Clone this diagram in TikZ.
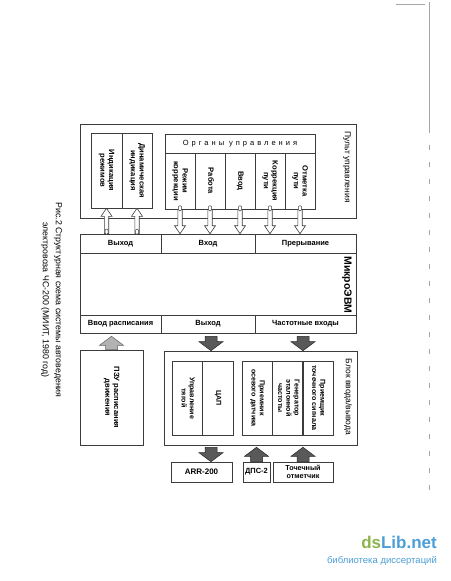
\documentclass[tikz,border=0pt]{standalone}
\usepackage{fontspec}
\usepackage{graphicx}
\setmainfont{Liberation Sans}
\usetikzlibrary{calc}
\definecolor{scanline}{HTML}{3C3C3C}
\definecolor{dsgreen}{HTML}{8DB34C}
\definecolor{dsblue}{HTML}{4C9ED6}

% vertical (top to bottom) text inside a box
\newcommand\vtext[1]{\rotatebox{-90}{\begin{tabular}{@{}c@{}}#1\end{tabular}}}
% block arrow: [style]{shaft half}{head half}{head length}{from}{to}
\newcommand\blockarrow[6][]{%
  \coordinate (bahead) at ($(#6)!#4!(#5)$);
  \draw[#1] ($(#5)!#2!90:(#6)$) -- ($(bahead)!#2!90:(#6)$) -- ($(bahead)!#3!90:(#6)$)
    -- (#6) -- ($(bahead)!#3!-90:(#6)$) -- ($(bahead)!#2!-90:(#6)$) -- ($(#5)!#2!-90:(#6)$) -- cycle;}

\begin{document}
\begin{tikzpicture}[x=1pt,y=-1pt,
    box/.style={draw=scanline, line width=0.6pt, inner sep=0pt},
    cell/.style={box, font=\fontsize{7.6}{8.6}\selectfont\bfseries},
    iocell/.style={box, font=\fontsize{7.1}{8.3}\selectfont\bfseries},
    rowcell/.style={box, font=\fontsize{7.5}{9}\selectfont\bfseries},
    sidelabel/.style={rotate=-90, font=\fontsize{8.5}{10}\selectfont},
    bulb/.style={draw=scanline, fill=white, line width=0.5pt, rounded corners=1pt, minimum width=3pt, minimum height=5pt, inner sep=0pt},
    hollow/.style={draw=scanline, fill=white, line width=0.6pt},
    heavy/.style={draw=black!85, fill=black!65, line width=0.5pt},
    light/.style={draw=black!60, fill=black!30, line width=0.5pt}]
    \useasboundingbox (0,0) rectangle (450,581);

    % Pult upravleniya
    \node[box, minimum width=276pt, minimum height=94pt] (pult) at (218,171) {};
    \node[sidelabel] (pultlbl) at (347,167) {Пульт управления};
    \node[cell, minimum width=31pt, minimum height=75pt] (ind1) at (106.5,170.5) {\vtext{Индикация\\режимов}};
    \node[cell, minimum width=30pt, minimum height=75pt] (ind2) at (137,170.5) {\vtext{Динамическая\\индикация}};
    \node[box, minimum width=150pt, minimum height=19pt, font=\fontsize{7.5}{9}\selectfont] (organy) at (240,143.5)
        {\addfontfeature{LetterSpace=40}Органы\hspace{5pt}управления};
    \foreach \i/\txt in {1/{Режим\\коррекции}, 2/Работа, 3/Ввод, 4/{Коррекция\\пути}, 5/{Отметка\\пути}} {
        \node[cell, minimum width=30pt, minimum height=56pt] (org\i) at (150+30*\i,181) {\vtext{\txt}};
    }

    % MikroEVM
    \node[box, minimum width=276pt, minimum height=99pt] (evm) at (218,283.5) {};
    \node[sidelabel, font=\fontsize{10.5}{12}\selectfont\bfseries] (evmlbl) at (347,285) {МикроЭВМ};
    \foreach \n/\x/\w/\txt in {out/120.5/81/Выход, in/208/94/Вход, irq/305.5/101/Прерывание} {
        \node[rowcell, minimum width=\w pt, minimum height=19pt] (\n) at (\x,243.5) {\txt};
    }
    \foreach \n/\x/\w/\txt in {sched/120.5/81/Ввод расписания, out2/208/94/Выход, freq/305.5/101/Частотные входы} {
        \node[rowcell, minimum width=\w pt, minimum height=18pt] (\n) at (\x,324) {\txt};
    }

    % Arrows pult <-> evm
    \foreach \i in {1,2} {
        \coordinate (indt\i) at (ind\i.south |- evm.north);
        \blockarrow[hollow]{2.2pt}{5.5pt}{8pt}{indt\i}{ind\i.south}
        \node[bulb] (indb\i) at ($(indt\i)+(0,-2)$) {};
    }
    \foreach \i in {1,...,5} {
        \coordinate (orgt\i) at (org\i.south |- evm.north);
        \blockarrow[hollow]{2.2pt}{5.5pt}{8pt}{org\i.south}{orgt\i}
        \node[bulb] (orgb\i) at ($(org\i.south)+(0,-1)$) {};
    }

    % PZU and blok vvoda/vyvoda
    \node[box, minimum width=63pt, minimum height=95pt, font=\fontsize{7.6}{8.6}\selectfont\bfseries] (pzu) at (111.5,397.5)
        {\vtext{ПЗУ расписания\\движения}};
    \node[box, minimum width=193pt, minimum height=94pt] (blok) at (260.5,398) {};
    \node[sidelabel] (bloklbl) at (348,397) {Блок ввода/вывода};
    \foreach \n/\x/\txt in {tyaga/187.5/{Управление\\тягой}, dac/218/ЦАП, osev/257.5/{Приемник\\осевого датчика},
                            gen/288/{Генератор\\эталонной\\частоты}, tochs/318/{Приемщик\\точечного сигнала}} {
        \node[iocell, minimum width=30.5pt, minimum height=74pt] (\n) at (\x,398) {\vtext{\txt}};
    }

    % Vneshnie ustroistva
    \node[box, minimum width=61pt, minimum height=20pt, font=\fontsize{8}{9}\selectfont\bfseries] (arr) at (201.5,472) {ARR-200};
    \node[box, minimum width=27pt, minimum height=20pt, font=\fontsize{7.5}{9}\selectfont\bfseries] (dps) at (256.5,472) {ДПС-2};
    \node[box, minimum width=60pt, minimum height=20pt, align=center, font=\fontsize{7.2}{8.5}\selectfont\bfseries] (tochka) at (303,472)
        {Точечный\\отметчик};

    % Filled arrows
    \coordinate (dacx) at (211,0);
    \coordinate (freqx) at (303,0);
    \coordinate (schedt) at ($(pzu.north |- evm.south)+(0,3)$);
    \blockarrow[light]{6pt}{12pt}{9pt}{pzu.north}{schedt}
    \coordinate (outt) at ($(dacx |- evm.south)+(0,3)$);
    \coordinate (outh) at (dacx |- blok.north);
    \blockarrow[heavy]{6pt}{12pt}{9pt}{outt}{outh}
    \coordinate (freqt) at ($(freqx |- evm.south)+(0,3)$);
    \coordinate (freqh) at (freqx |- blok.north);
    \blockarrow[heavy]{6pt}{12pt}{9pt}{freqt}{freqh}
    \coordinate (arrt) at ($(dacx |- blok.south)+(0,2)$);
    \coordinate (arrh) at (dacx |- arr.north);
    \blockarrow[heavy]{6pt}{12pt}{9pt}{arrt}{arrh}
    \coordinate (dpsh) at ($(dps.north |- blok.south)+(0,2)$);
    \blockarrow[heavy]{6pt}{12pt}{9pt}{dps.north}{dpsh}
    \coordinate (tochh) at ($(tochka.north |- blok.south)+(0,2)$);
    \blockarrow[heavy]{6pt}{12pt}{9pt}{tochka.north}{tochh}

    % Caption
    \node[rotate=-90, align=center, font=\fontsize{8.8}{13}\selectfont] (caption) at (51.5,300)
        {Рис.2 Структурная схема системы автоведения\\электровоза ЧС-200 (МИИТ, 1980 год)};

    % Page edge of the scan
    \draw[gray!70, line width=0.6pt] (396,4) -- (425,4);
    \draw[gray!70, line width=0.8pt] (429,2) -- (429,128);
    \draw[gray!70, line width=0.8pt, dash pattern=on 5pt off 12pt] (429,128) -- (429,500);

    % Watermark
    \node[anchor=base east, inner sep=0pt, font=\fontsize{17}{20}\selectfont\bfseries] (dslogo) at (437,548)
        {\textcolor{dsgreen}{ds}\textcolor{dsblue}{Lib.net}};
    \node[anchor=base east, inner sep=0pt, text=dsblue, font=\fontsize{9.5}{11}\selectfont] (dssub) at (437,563)
        {библиотека диссертаций};
\end{tikzpicture}
\end{document}
